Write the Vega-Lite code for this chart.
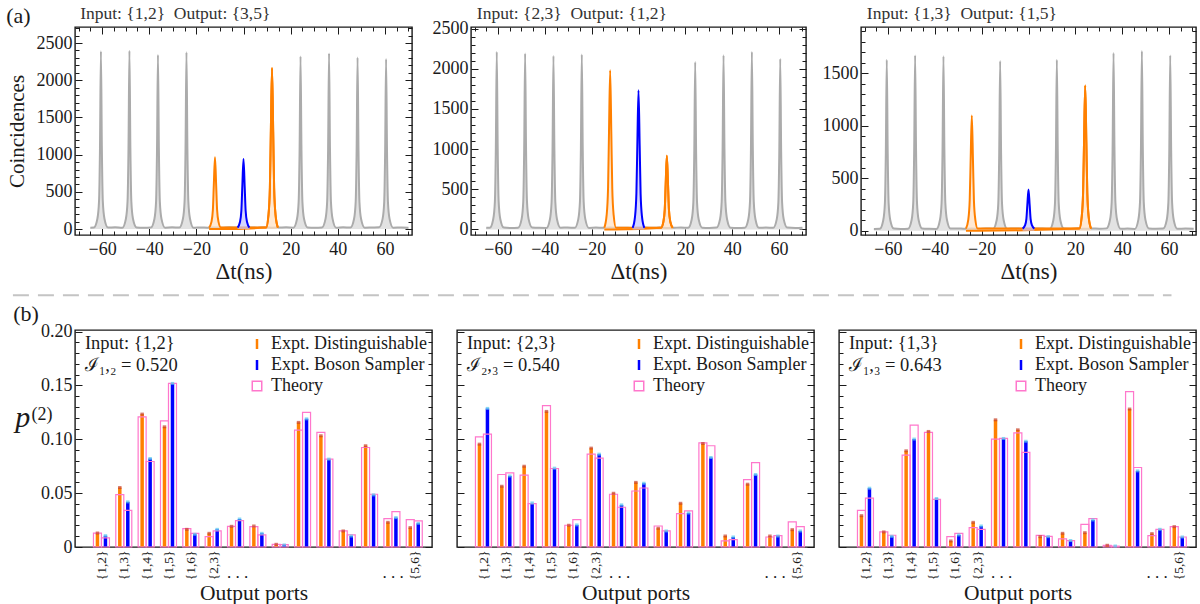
{
"$schema": "https://vega.github.io/schema/vega-lite/v6.json",
"padding": {"left": 5, "top": 0, "right": 0, "bottom": 0},
"autosize": {"type": "pad"},
"background": "white",
"spacing": 9,
"config": {
  "font": "Liberation Serif",
  "view": {"stroke": "#1a1a1a", "strokeWidth": 1.4},
  "axis": {"domain": false, "grid": false, "labelFont": "Liberation Serif", "titleFont": "Liberation Serif", "labelColor": "#1a1a1a", "titleColor": "#1a1a1a", "titleFontWeight": "normal", "tickColor": "#1a1a1a", "tickWidth": 1, "labelOverlap": false, "labelFlush": false},
  "legend": {"orient": "top-right", "offset": 5, "padding": 0, "rowPadding": 3, "labelFontSize": 18, "labelFont": "Liberation Serif", "labelColor": "#1a1a1a", "symbolSize": 100, "labelOffset": 5, "symbolStrokeWidth": 1.5, "layout": {"top-right": {"direction": "vertical", "anchor": "start", "margin": 3, "center": false}}},
  "text": {"font": "Liberation Serif", "color": "#1a1a1a"}
},
"datasets": {
"t1": [
{"s":"g","x":-65,"y":18},{"s":"g","x":-63.5,"y":20},{"s":"g","x":-62,"y":139},{"s":"g","x":-61.3,"y":376},{"s":"g","x":-60.9,"y":1087},{"s":"g","x":-60.5,"y":2390},{"s":"g","x":-60.1,"y":1087},{"s":"g","x":-59.7,"y":376},{"s":"g","x":-59,"y":139},{"s":"g","x":-57.5,"y":20},{"s":"g","x":-54.5,"y":24},
{"s":"g","x":-51.4,"y":18},{"s":"g","x":-49.9,"y":139},{"s":"g","x":-49.2,"y":376},{"s":"g","x":-48.8,"y":1089},{"s":"g","x":-48.4,"y":2395},{"s":"g","x":-48,"y":1089},{"s":"g","x":-47.6,"y":376},{"s":"g","x":-46.9,"y":139},{"s":"g","x":-45.4,"y":22},{"s":"g","x":-42.4,"y":16},
{"s":"g","x":-39.3,"y":21},{"s":"g","x":-37.8,"y":136},{"s":"g","x":-37.1,"y":368},{"s":"g","x":-36.7,"y":1064},{"s":"g","x":-36.3,"y":2340},{"s":"g","x":-35.9,"y":1064},{"s":"g","x":-35.5,"y":368},{"s":"g","x":-34.8,"y":136},{"s":"g","x":-33.3,"y":19},{"s":"g","x":-30.3,"y":23},
{"s":"g","x":-27.2,"y":20},{"s":"g","x":-25.7,"y":138},{"s":"g","x":-25,"y":373},{"s":"g","x":-24.6,"y":1080},{"s":"g","x":-24.2,"y":2375},{"s":"g","x":-23.8,"y":1080},{"s":"g","x":-23.4,"y":373},{"s":"g","x":-22.7,"y":138},{"s":"g","x":-21.2,"y":17},{"s":"g","x":-18.2,"y":22},
{"s":"g","x":-15.1,"y":19},{"s":"g","x":-12.1,"y":21},{"s":"g","x":-9.1,"y":18},{"s":"g","x":-6.1,"y":24},{"s":"g","x":-3,"y":20},{"s":"g","x":0,"y":17},{"s":"g","x":3,"y":22},{"s":"g","x":6,"y":19},{"s":"g","x":9.1,"y":21},{"s":"g","x":12.1,"y":18},{"s":"g","x":15.1,"y":20},{"s":"g","x":18.1,"y":23},
{"s":"g","x":21.2,"y":19},{"s":"g","x":22.7,"y":135},{"s":"g","x":23.4,"y":365},{"s":"g","x":23.8,"y":1055},{"s":"g","x":24.2,"y":2320},{"s":"g","x":24.6,"y":1055},{"s":"g","x":25,"y":365},{"s":"g","x":25.7,"y":135},{"s":"g","x":27.2,"y":21},{"s":"g","x":30.2,"y":17},
{"s":"g","x":33.3,"y":22},{"s":"g","x":34.8,"y":137},{"s":"g","x":35.5,"y":371},{"s":"g","x":35.9,"y":1073},{"s":"g","x":36.3,"y":2360},{"s":"g","x":36.7,"y":1073},{"s":"g","x":37.1,"y":371},{"s":"g","x":37.8,"y":137},{"s":"g","x":39.3,"y":18},{"s":"g","x":42.3,"y":24},
{"s":"g","x":45.4,"y":20},{"s":"g","x":46.9,"y":134},{"s":"g","x":47.6,"y":363},{"s":"g","x":48,"y":1048},{"s":"g","x":48.4,"y":2305},{"s":"g","x":48.8,"y":1048},{"s":"g","x":49.2,"y":363},{"s":"g","x":49.9,"y":134},{"s":"g","x":51.4,"y":19},{"s":"g","x":54.4,"y":21},
{"s":"g","x":57.5,"y":23},{"s":"g","x":59,"y":133},{"s":"g","x":59.7,"y":360},{"s":"g","x":60.1,"y":1039},{"s":"g","x":60.5,"y":2285},{"s":"g","x":60.9,"y":1039},{"s":"g","x":61.3,"y":360},{"s":"g","x":62,"y":133},{"s":"g","x":63.5,"y":18},{"s":"g","x":67,"y":22},{"s":"g","x":70,"y":19},
{"s":"o1","x":-14.6,"y":20},{"s":"o1","x":-13.6,"y":96},{"s":"o1","x":-13,"y":256},{"s":"o1","x":-12.6,"y":587},{"s":"o1","x":-12.1,"y":965},{"s":"o1","x":-11.6,"y":587},{"s":"o1","x":-11.2,"y":256},{"s":"o1","x":-10.6,"y":96},{"s":"o1","x":-9.6,"y":20},
{"s":"o2","x":9.6,"y":20},{"s":"o2","x":10.6,"y":191},{"s":"o2","x":11.2,"y":556},{"s":"o2","x":11.6,"y":1306},{"s":"o2","x":12.1,"y":2163},{"s":"o2","x":12.6,"y":1306},{"s":"o2","x":13,"y":556},{"s":"o2","x":13.6,"y":191},{"s":"o2","x":14.6,"y":20},
{"s":"b","x":-2.5,"y":20},{"s":"b","x":-1.5,"y":94},{"s":"b","x":-0.9,"y":250},{"s":"b","x":-0.5,"y":573},{"s":"b","x":0,"y":942},{"s":"b","x":0.5,"y":573},{"s":"b","x":0.9,"y":250},{"s":"b","x":1.5,"y":94},{"s":"b","x":2.5,"y":20}
],
"t2": [
{"s":"g","x":-65,"y":21},{"s":"g","x":-63.5,"y":19},{"s":"g","x":-62,"y":130},{"s":"g","x":-61.3,"y":349},{"s":"g","x":-60.9,"y":1006},{"s":"g","x":-60.5,"y":2210},{"s":"g","x":-60.1,"y":1006},{"s":"g","x":-59.7,"y":349},{"s":"g","x":-59,"y":130},{"s":"g","x":-57.5,"y":22},{"s":"g","x":-54.5,"y":17},
{"s":"g","x":-51.4,"y":20},{"s":"g","x":-49.9,"y":128},{"s":"g","x":-49.2,"y":345},{"s":"g","x":-48.8,"y":996},{"s":"g","x":-48.4,"y":2189},{"s":"g","x":-48,"y":996},{"s":"g","x":-47.6,"y":345},{"s":"g","x":-46.9,"y":128},{"s":"g","x":-45.4,"y":24},{"s":"g","x":-42.4,"y":19},
{"s":"g","x":-39.3,"y":18},{"s":"g","x":-37.8,"y":127},{"s":"g","x":-37.1,"y":341},{"s":"g","x":-36.7,"y":983},{"s":"g","x":-36.3,"y":2160},{"s":"g","x":-35.9,"y":983},{"s":"g","x":-35.5,"y":341},{"s":"g","x":-34.8,"y":127},{"s":"g","x":-33.3,"y":21},{"s":"g","x":-30.3,"y":23},
{"s":"g","x":-27.2,"y":20},{"s":"g","x":-25.7,"y":128},{"s":"g","x":-25,"y":344},{"s":"g","x":-24.6,"y":991},{"s":"g","x":-24.2,"y":2177},{"s":"g","x":-23.8,"y":991},{"s":"g","x":-23.4,"y":344},{"s":"g","x":-22.7,"y":128},{"s":"g","x":-21.2,"y":18},{"s":"g","x":-18.2,"y":22},
{"s":"g","x":-15.1,"y":20},{"s":"g","x":-12.1,"y":22},{"s":"g","x":-9.1,"y":19},{"s":"g","x":-6.1,"y":21},{"s":"g","x":-3,"y":18},{"s":"g","x":0,"y":21},{"s":"g","x":3,"y":23},{"s":"g","x":6,"y":19},{"s":"g","x":9.1,"y":22},{"s":"g","x":12.1,"y":18},{"s":"g","x":15.1,"y":20},{"s":"g","x":18.1,"y":24},
{"s":"g","x":21.2,"y":19},{"s":"g","x":22.7,"y":123},{"s":"g","x":23.4,"y":330},{"s":"g","x":23.8,"y":949},{"s":"g","x":24.2,"y":2085},{"s":"g","x":24.6,"y":949},{"s":"g","x":25,"y":330},{"s":"g","x":25.7,"y":123},{"s":"g","x":27.2,"y":21},{"s":"g","x":30.2,"y":18},
{"s":"g","x":33.3,"y":22},{"s":"g","x":34.8,"y":127},{"s":"g","x":35.5,"y":342},{"s":"g","x":35.9,"y":987},{"s":"g","x":36.3,"y":2168},{"s":"g","x":36.7,"y":987},{"s":"g","x":37.1,"y":342},{"s":"g","x":37.8,"y":127},{"s":"g","x":39.3,"y":20},{"s":"g","x":42.3,"y":17},
{"s":"g","x":45.4,"y":21},{"s":"g","x":46.9,"y":130},{"s":"g","x":47.6,"y":349},{"s":"g","x":48,"y":1006},{"s":"g","x":48.4,"y":2210},{"s":"g","x":48.8,"y":1006},{"s":"g","x":49.2,"y":349},{"s":"g","x":49.9,"y":130},{"s":"g","x":51.4,"y":19},{"s":"g","x":54.4,"y":23},
{"s":"g","x":57.5,"y":20},{"s":"g","x":59,"y":125},{"s":"g","x":59.7,"y":335},{"s":"g","x":60.1,"y":966},{"s":"g","x":60.5,"y":2123},{"s":"g","x":60.9,"y":966},{"s":"g","x":61.3,"y":335},{"s":"g","x":62,"y":125},{"s":"g","x":63.5,"y":22},{"s":"g","x":67,"y":18},{"s":"g","x":70,"y":21},
{"s":"o1","x":-14.6,"y":20},{"s":"o1","x":-13.6,"y":177},{"s":"o1","x":-13,"y":511},{"s":"o1","x":-12.6,"y":1197},{"s":"o1","x":-12.1,"y":1982},{"s":"o1","x":-11.6,"y":1197},{"s":"o1","x":-11.2,"y":511},{"s":"o1","x":-10.6,"y":177},{"s":"o1","x":-9.6,"y":20},
{"s":"o2","x":9.6,"y":20},{"s":"o2","x":10.6,"y":92},{"s":"o2","x":11.2,"y":244},{"s":"o2","x":11.6,"y":558},{"s":"o2","x":12.1,"y":916},{"s":"o2","x":12.6,"y":558},{"s":"o2","x":13,"y":244},{"s":"o2","x":13.6,"y":92},{"s":"o2","x":14.6,"y":20},
{"s":"b","x":-2.5,"y":20},{"s":"b","x":-1.5,"y":157},{"s":"b","x":-0.9,"y":448},{"s":"b","x":-0.5,"y":1048},{"s":"b","x":0,"y":1733},{"s":"b","x":0.5,"y":1048},{"s":"b","x":0.9,"y":448},{"s":"b","x":1.5,"y":157},{"s":"b","x":2.5,"y":20}
],
"t3": [
{"s":"g","x":-66,"y":17},{"s":"g","x":-63.5,"y":18},{"s":"g","x":-62,"y":100},{"s":"g","x":-61.3,"y":261},{"s":"g","x":-60.9,"y":743},{"s":"g","x":-60.5,"y":1627},{"s":"g","x":-60.1,"y":743},{"s":"g","x":-59.7,"y":261},{"s":"g","x":-59,"y":100},{"s":"g","x":-57.5,"y":20},{"s":"g","x":-54.5,"y":16},
{"s":"g","x":-51.4,"y":19},{"s":"g","x":-49.9,"y":102},{"s":"g","x":-49.2,"y":267},{"s":"g","x":-48.8,"y":762},{"s":"g","x":-48.4,"y":1668},{"s":"g","x":-48,"y":762},{"s":"g","x":-47.6,"y":267},{"s":"g","x":-46.9,"y":102},{"s":"g","x":-45.4,"y":21},{"s":"g","x":-42.4,"y":18},
{"s":"g","x":-39.3,"y":17},{"s":"g","x":-37.8,"y":102},{"s":"g","x":-37.1,"y":266},{"s":"g","x":-36.7,"y":758},{"s":"g","x":-36.3,"y":1659},{"s":"g","x":-35.9,"y":758},{"s":"g","x":-35.5,"y":266},{"s":"g","x":-34.8,"y":102},{"s":"g","x":-33.3,"y":20},{"s":"g","x":-30.3,"y":22},
{"s":"g","x":-27.2,"y":18},{"s":"g","x":-24.2,"y":20},{"s":"g","x":-21.2,"y":17},{"s":"g","x":-18.2,"y":21},
{"s":"g","x":-15.1,"y":19},{"s":"g","x":-13.6,"y":100},{"s":"g","x":-12.9,"y":259},{"s":"g","x":-12.5,"y":737},{"s":"g","x":-12.1,"y":1614},{"s":"g","x":-11.7,"y":737},{"s":"g","x":-11.3,"y":259},{"s":"g","x":-10.6,"y":100},{"s":"g","x":-9.1,"y":18},{"s":"g","x":-6.1,"y":22},
{"s":"g","x":-3,"y":19},{"s":"g","x":0,"y":17},{"s":"g","x":3,"y":20},{"s":"g","x":6,"y":21},
{"s":"g","x":9.1,"y":18},{"s":"g","x":10.6,"y":100},{"s":"g","x":11.3,"y":261},{"s":"g","x":11.7,"y":743},{"s":"g","x":12.1,"y":1627},{"s":"g","x":12.5,"y":743},{"s":"g","x":12.9,"y":261},{"s":"g","x":13.6,"y":100},{"s":"g","x":15.1,"y":20},{"s":"g","x":18.1,"y":17},
{"s":"g","x":21.2,"y":20},{"s":"g","x":24.2,"y":18},{"s":"g","x":27.2,"y":21},{"s":"g","x":30.2,"y":19},
{"s":"g","x":33.3,"y":22},{"s":"g","x":34.8,"y":104},{"s":"g","x":35.5,"y":271},{"s":"g","x":35.9,"y":772},{"s":"g","x":36.3,"y":1690},{"s":"g","x":36.7,"y":772},{"s":"g","x":37.1,"y":271},{"s":"g","x":37.8,"y":104},{"s":"g","x":39.3,"y":18},{"s":"g","x":42.3,"y":20},
{"s":"g","x":45.4,"y":17},{"s":"g","x":46.9,"y":105},{"s":"g","x":47.6,"y":274},{"s":"g","x":48,"y":781},{"s":"g","x":48.4,"y":1710},{"s":"g","x":48.8,"y":781},{"s":"g","x":49.2,"y":274},{"s":"g","x":49.9,"y":105},{"s":"g","x":51.4,"y":21},{"s":"g","x":54.4,"y":19},
{"s":"g","x":57.5,"y":20},{"s":"g","x":59,"y":102},{"s":"g","x":59.7,"y":267},{"s":"g","x":60.1,"y":762},{"s":"g","x":60.5,"y":1668},{"s":"g","x":60.9,"y":762},{"s":"g","x":61.3,"y":267},{"s":"g","x":62,"y":102},{"s":"g","x":63.5,"y":18},{"s":"g","x":67,"y":21},{"s":"g","x":70.5,"y":18},
{"s":"o1","x":-26.7,"y":20},{"s":"o1","x":-25.7,"y":106},{"s":"o1","x":-25.1,"y":289},{"s":"o1","x":-24.7,"y":666},{"s":"o1","x":-24.2,"y":1096},{"s":"o1","x":-23.7,"y":666},{"s":"o1","x":-23.3,"y":289},{"s":"o1","x":-22.7,"y":106},{"s":"o1","x":-21.7,"y":20},
{"s":"o2","x":21.7,"y":20},{"s":"o2","x":22.7,"y":129},{"s":"o2","x":23.3,"y":361},{"s":"o2","x":23.7,"y":837},{"s":"o2","x":24.2,"y":1382},{"s":"o2","x":24.7,"y":837},{"s":"o2","x":25.1,"y":361},{"s":"o2","x":25.7,"y":129},{"s":"o2","x":26.7,"y":20},
{"s":"b","x":-2.5,"y":20},{"s":"b","x":-1.5,"y":50},{"s":"b","x":-0.9,"y":113},{"s":"b","x":-0.5,"y":243},{"s":"b","x":0,"y":391},{"s":"b","x":0.5,"y":243},{"s":"b","x":0.9,"y":113},{"s":"b","x":1.5,"y":50},{"s":"b","x":2.5,"y":20}
],
"bars": [
{"p":1,"i":1,"d":0.013,"b":0.0105,"td":0.0128,"tb":0.0085},
{"p":1,"i":2,"d":0.0552,"b":0.0419,"td":0.0487,"tb":0.0341},
{"p":1,"i":3,"d":0.1234,"b":0.0822,"td":0.1209,"tb":0.0794},
{"p":1,"i":4,"d":0.1116,"b":0.1519,"td":0.1172,"tb":0.1519},
{"p":1,"i":5,"d":0.0164,"b":0.0118,"td":0.0171,"tb":0.0127},
{"p":1,"i":6,"d":0.0127,"b":0.0164,"td":0.0096,"tb":0.0149},
{"p":1,"i":7,"d":0.0192,"b":0.026,"td":0.0192,"tb":0.0245},
{"p":1,"i":8,"d":0.0195,"b":0.0127,"td":0.0189,"tb":0.0112},
{"p":1,"i":9,"d":0.0025,"b":0.0019,"td":0.0025,"tb":0.0022},
{"p":1,"i":10,"d":0.1157,"b":0.119,"td":0.1085,"tb":0.125},
{"p":1,"i":11,"d":0.1033,"b":0.0816,"td":0.1064,"tb":0.0816},
{"p":1,"i":12,"d":0.0149,"b":0.0102,"td":0.0149,"tb":0.0112},
{"p":1,"i":13,"d":0.094,"b":0.0484,"td":0.0924,"tb":0.049},
{"p":1,"i":14,"d":0.0229,"b":0.0273,"td":0.0264,"tb":0.0329},
{"p":1,"i":15,"d":0.018,"b":0.022,"td":0.0254,"tb":0.0242},
{"p":2,"i":1,"d":0.0955,"b":0.1287,"td":0.1023,"tb":0.1048},
{"p":2,"i":2,"d":0.0564,"b":0.066,"td":0.0673,"tb":0.0688},
{"p":2,"i":3,"d":0.075,"b":0.0409,"td":0.0667,"tb":0.0403},
{"p":2,"i":4,"d":0.1259,"b":0.0732,"td":0.1312,"tb":0.0729},
{"p":2,"i":5,"d":0.0202,"b":0.0205,"td":0.0202,"tb":0.0254},
{"p":2,"i":6,"d":0.0918,"b":0.0862,"td":0.0862,"tb":0.0825},
{"p":2,"i":7,"d":0.0499,"b":0.0391,"td":0.049,"tb":0.0369},
{"p":2,"i":8,"d":0.06,"b":0.0592,"td":0.052,"tb":0.0548},
{"p":2,"i":9,"d":0.0174,"b":0.0149,"td":0.0195,"tb":0.0149},
{"p":2,"i":10,"d":0.0406,"b":0.0316,"td":0.031,"tb":0.0335},
{"p":2,"i":11,"d":0.0961,"b":0.0831,"td":0.0967,"tb":0.094},
{"p":2,"i":12,"d":0.0102,"b":0.0093,"td":0.0056,"tb":0.0068},
{"p":2,"i":13,"d":0.0583,"b":0.0673,"td":0.0626,"tb":0.0784},
{"p":2,"i":14,"d":0.0102,"b":0.0102,"td":0.0093,"tb":0.0105},
{"p":2,"i":15,"d":0.0161,"b":0.0149,"td":0.0233,"tb":0.0189},
{"p":3,"i":1,"d":0.0291,"b":0.0546,"td":0.0341,"tb":0.0453},
{"p":3,"i":2,"d":0.014,"b":0.0099,"td":0.014,"tb":0.0109},
{"p":3,"i":3,"d":0.0893,"b":0.1002,"td":0.0853,"tb":0.1132},
{"p":3,"i":4,"d":0.1073,"b":0.045,"td":0.1064,"tb":0.0443},
{"p":3,"i":5,"d":0.0056,"b":0.0112,"td":0.0096,"tb":0.0127},
{"p":3,"i":6,"d":0.0229,"b":0.0195,"td":0.018,"tb":0.0164},
{"p":3,"i":7,"d":0.1181,"b":0.1008,"td":0.1002,"tb":0.1008},
{"p":3,"i":8,"d":0.1088,"b":0.0982,"td":0.106,"tb":0.0878},
{"p":3,"i":9,"d":0.0096,"b":0.0096,"td":0.0108,"tb":0.0099},
{"p":3,"i":10,"d":0.0127,"b":0.006,"td":0.0075,"tb":0.006},
{"p":3,"i":11,"d":0.0133,"b":0.0251,"td":0.0211,"tb":0.0264},
{"p":3,"i":12,"d":0.0016,"b":0.0009,"td":0.0016,"tb":0.0008},
{"p":3,"i":13,"d":0.1281,"b":0.0707,"td":0.1442,"tb":0.0738},
{"p":3,"i":14,"d":0.0124,"b":0.0164,"td":0.0105,"tb":0.0164},
{"p":3,"i":15,"d":0.0189,"b":0.0093,"td":0.0189,"tb":0.0093}
]
},
"resolve": {"scale": {"x": "independent", "y": "independent", "color": "independent", "stroke": "independent"}, "legend": {"color": "independent", "stroke": "independent"}, "axis": {"x": "independent", "y": "independent"}},
"vconcat": [
{
"bounds": "flush", "spacing": 59,
"resolve": {"scale": {"x": "independent", "y": "independent"}, "axis": {"x": "independent", "y": "independent"}},
"hconcat": [
{
"width": 337, "height": 208,
"resolve": {"axis": {"x": "independent", "y": "independent"}},
"layer": [
{"data": {"name": "t1"}, "transform": [{"filter": "datum.s === 'g'"}],
 "mark": {"type": "area", "interpolate": "monotone", "color": "#e2e2e2"},
 "encoding": {
  "x": {"field": "x", "type": "quantitative", "scale": {"domain": [-71.5, 71.5], "nice": false}, "axis": {"orient": "bottom", "title": "Δt(ns)", "titleFontSize": 23, "titleY": 36, "titleBaseline": "middle", "values": [-60,-40,-20,0,20,40,60], "format": "d", "tickSize": -7, "labelPadding": 12, "labelFontSize": 18}},
  "y": {"field": "y", "type": "quantitative", "scale": {"domain": [-80, 2715], "nice": false}, "axis": {"orient": "left", "title": "Coincidences", "titleFontSize": 21, "titleX": -58, "titleY": 104, "titleAngle": -90, "titleAlign": "center", "titleBaseline": "middle", "values": [0,500,1000,1500,2000,2500], "format": "d", "tickSize": -7, "labelPadding": 10, "labelFontSize": 18}}
 }},
{"data": {"name": "t1"}, "transform": [{"filter": "datum.s === 'g'"}],
 "mark": {"type": "line", "interpolate": "monotone", "color": "#ababab", "strokeWidth": 2},
 "encoding": {
  "x": {"field": "x", "type": "quantitative", "axis": {"orient": "bottom", "title": null, "labels": false, "values": [-70,-65,-55,-50,-45,-35,-30,-25,-15,-10,-5,5,10,15,25,30,35,45,50,55,65,70], "tickSize": -4}},
  "y": {"field": "y", "type": "quantitative", "axis": {"orient": "left", "title": null, "labels": false, "values": [100,200,300,400,600,700,800,900,1100,1200,1300,1400,1600,1700,1800,1900,2100,2200,2300,2400,2600,2700], "tickSize": -4}}
 }},
{"data": {"name": "t1"}, "transform": [{"filter": "indexof(datum.s, 'o') === 0"}],
 "mark": {"type": "area", "interpolate": "monotone", "color": "#ffe0c2", "line": {"color": "#ff8000", "strokeWidth": 2}},
 "encoding": {
  "x": {"field": "x", "type": "quantitative", "axis": {"orient": "top", "title": null, "labels": false, "values": [-60,-40,-20,0,20,40,60], "tickSize": -7}},
  "y": {"field": "y", "type": "quantitative", "axis": {"orient": "right", "title": null, "labels": false, "values": [0,500,1000,1500,2000,2500], "tickSize": -7}},
  "detail": {"field": "s"}}},
{"data": {"name": "t1"}, "transform": [{"filter": "datum.s === 'b'"}],
 "mark": {"type": "area", "interpolate": "monotone", "color": "#c4c4ff", "line": {"color": "#0000ff", "strokeWidth": 2}},
 "encoding": {
  "x": {"field": "x", "type": "quantitative", "axis": {"orient": "top", "title": null, "labels": false, "values": [-70,-65,-55,-50,-45,-35,-30,-25,-15,-10,-5,5,10,15,25,30,35,45,50,55,65,70], "tickSize": -4}},
  "y": {"field": "y", "type": "quantitative", "axis": {"orient": "right", "title": null, "labels": false, "values": [100,200,300,400,600,700,800,900,1100,1200,1300,1400,1600,1700,1800,1900,2100,2200,2300,2400,2600,2700], "tickSize": -4}}}},
{"data": {"values": [{"t": "(a)"}]},
 "mark": {"type": "text", "align": "left", "baseline": "middle", "fontSize": 22},
 "encoding": {"text": {"field": "t"}, "x": {"datum": -100.7, "type": "quantitative", "axis": null}, "y": {"datum": 2861, "type": "quantitative", "axis": null}}},
{"data": {"values": [{"t": "Input: {1,2} \u00a0Output: {3,5}"}]},
 "mark": {"type": "text", "align": "left", "baseline": "middle", "fontSize": 17.5, "color": "#333333"},
 "encoding": {"text": {"field": "t"}, "x": {"datum": -69.3, "type": "quantitative", "axis": null}, "y": {"datum": 2895, "type": "quantitative", "axis": null}}},
{"data": {"values": [{}]}, "mark": {"type": "rule", "color": "white", "opacity": 0, "strokeWidth": 1},
 "encoding": {"x": {"datum": -100, "type": "quantitative", "axis": null}, "x2": {"datum": -99}, "y": {"datum": 3067, "type": "quantitative", "axis": null}}}
]
},
{
"bounds": "flush", "spacing": 55,
"resolve": {"scale": {"x": "independent", "y": "independent"}, "axis": {"x": "independent", "y": "independent"}},
"hconcat": [
{
"width": 335, "height": 208,
"resolve": {"axis": {"x": "independent", "y": "independent"}},
"layer": [
{"data": {"name": "t2"}, "transform": [{"filter": "datum.s === 'g'"}],
 "mark": {"type": "area", "interpolate": "monotone", "color": "#e2e2e2"},
 "encoding": {
  "x": {"field": "x", "type": "quantitative", "scale": {"domain": [-71.5, 71.5], "nice": false}, "axis": {"orient": "bottom", "title": "Δt(ns)", "titleFontSize": 23, "titleY": 36, "titleBaseline": "middle", "values": [-60,-40,-20,0,20,40,60], "format": "d", "tickSize": -7, "labelPadding": 12, "labelFontSize": 18}},
  "y": {"field": "y", "type": "quantitative", "scale": {"domain": [-70, 2520], "nice": false}, "axis": {"orient": "left", "title": null, "values": [0,500,1000,1500,2000,2500], "format": "d", "tickSize": -7, "labelPadding": 10, "labelFontSize": 18}}
 }},
{"data": {"name": "t2"}, "transform": [{"filter": "datum.s === 'g'"}],
 "mark": {"type": "line", "interpolate": "monotone", "color": "#ababab", "strokeWidth": 2},
 "encoding": {
  "x": {"field": "x", "type": "quantitative", "axis": {"orient": "bottom", "title": null, "labels": false, "values": [-70,-65,-55,-50,-45,-35,-30,-25,-15,-10,-5,5,10,15,25,30,35,45,50,55,65,70], "tickSize": -4}},
  "y": {"field": "y", "type": "quantitative", "axis": {"orient": "left", "title": null, "labels": false, "values": [100,200,300,400,600,700,800,900,1100,1200,1300,1400,1600,1700,1800,1900,2100,2200,2300,2400], "tickSize": -4}}
 }},
{"data": {"name": "t2"}, "transform": [{"filter": "indexof(datum.s, 'o') === 0"}],
 "mark": {"type": "area", "interpolate": "monotone", "color": "#ffe0c2", "line": {"color": "#ff8000", "strokeWidth": 2}},
 "encoding": {
  "x": {"field": "x", "type": "quantitative", "axis": {"orient": "top", "title": null, "labels": false, "values": [-60,-40,-20,0,20,40,60], "tickSize": -7}},
  "y": {"field": "y", "type": "quantitative", "axis": {"orient": "right", "title": null, "labels": false, "values": [0,500,1000,1500,2000,2500], "tickSize": -7}},
  "detail": {"field": "s"}}},
{"data": {"name": "t2"}, "transform": [{"filter": "datum.s === 'b'"}],
 "mark": {"type": "area", "interpolate": "monotone", "color": "#c4c4ff", "line": {"color": "#0000ff", "strokeWidth": 2}},
 "encoding": {
  "x": {"field": "x", "type": "quantitative", "axis": {"orient": "top", "title": null, "labels": false, "values": [-70,-65,-55,-50,-45,-35,-30,-25,-15,-10,-5,5,10,15,25,30,35,45,50,55,65,70], "tickSize": -4}},
  "y": {"field": "y", "type": "quantitative", "axis": {"orient": "right", "title": null, "labels": false, "values": [100,200,300,400,600,700,800,900,1100,1200,1300,1400,1600,1700,1800,1900,2100,2200,2300,2400], "tickSize": -4}}}},
{"data": {"values": [{"t": "Input: {2,3} \u00a0Output: {1,2}"}]},
 "mark": {"type": "text", "align": "left", "baseline": "middle", "fontSize": 17.5, "color": "#333333"},
 "encoding": {"text": {"field": "t"}, "x": {"datum": -69.0, "type": "quantitative", "axis": null}, "y": {"datum": 2686, "type": "quantitative", "axis": null}}}
]
},
{
"width": 335, "height": 208,
"resolve": {"axis": {"x": "independent", "y": "independent"}},
"layer": [
{"data": {"name": "t3"}, "transform": [{"filter": "datum.s === 'g'"}],
 "mark": {"type": "area", "interpolate": "monotone", "color": "#e2e2e2"},
 "encoding": {
  "x": {"field": "x", "type": "quantitative", "scale": {"domain": [-71.5, 71.5], "nice": false}, "axis": {"orient": "bottom", "title": "Δt(ns)", "titleFontSize": 23, "titleY": 36, "titleBaseline": "middle", "values": [-60,-40,-20,0,20,40,60], "format": "d", "tickSize": -7, "labelPadding": 12, "labelFontSize": 18}},
  "y": {"field": "y", "type": "quantitative", "scale": {"domain": [-41, 1938], "nice": false}, "axis": {"orient": "left", "title": null, "values": [0,500,1000,1500], "format": "d", "tickSize": -7, "labelPadding": 10, "labelFontSize": 18}}
 }},
{"data": {"name": "t3"}, "transform": [{"filter": "datum.s === 'g'"}],
 "mark": {"type": "line", "interpolate": "monotone", "color": "#ababab", "strokeWidth": 2},
 "encoding": {
  "x": {"field": "x", "type": "quantitative", "axis": {"orient": "bottom", "title": null, "labels": false, "values": [-70,-65,-55,-50,-45,-35,-30,-25,-15,-10,-5,5,10,15,25,30,35,45,50,55,65,70], "tickSize": -4}},
  "y": {"field": "y", "type": "quantitative", "axis": {"orient": "left", "title": null, "labels": false, "values": [100,200,300,400,600,700,800,900,1100,1200,1300,1400,1600,1700,1800,1900], "tickSize": -4}}
 }},
{"data": {"name": "t3"}, "transform": [{"filter": "indexof(datum.s, 'o') === 0"}],
 "mark": {"type": "area", "interpolate": "monotone", "color": "#ffe0c2", "line": {"color": "#ff8000", "strokeWidth": 2}},
 "encoding": {
  "x": {"field": "x", "type": "quantitative", "axis": {"orient": "top", "title": null, "labels": false, "values": [-60,-40,-20,0,20,40,60], "tickSize": -7}},
  "y": {"field": "y", "type": "quantitative", "axis": {"orient": "right", "title": null, "labels": false, "values": [0,500,1000,1500], "tickSize": -7}},
  "detail": {"field": "s"}}},
{"data": {"name": "t3"}, "transform": [{"filter": "datum.s === 'b'"}],
 "mark": {"type": "area", "interpolate": "monotone", "color": "#c4c4ff", "line": {"color": "#0000ff", "strokeWidth": 2}},
 "encoding": {
  "x": {"field": "x", "type": "quantitative", "axis": {"orient": "top", "title": null, "labels": false, "values": [-70,-65,-55,-50,-45,-35,-30,-25,-15,-10,-5,5,10,15,25,30,35,45,50,55,65,70], "tickSize": -4}},
  "y": {"field": "y", "type": "quantitative", "axis": {"orient": "right", "title": null, "labels": false, "values": [100,200,300,400,600,700,800,900,1100,1200,1300,1400,1600,1700,1800,1900], "tickSize": -4}}}},
{"data": {"values": [{"t": "Input: {1,3} \u00a0Output: {1,5}"}]},
 "mark": {"type": "text", "align": "left", "baseline": "middle", "fontSize": 17.5, "color": "#333333"},
 "encoding": {"text": {"field": "t"}, "x": {"datum": -69.0, "type": "quantitative", "axis": null}, "y": {"datum": 2065, "type": "quantitative", "axis": null}}}
]
}
]
}
]
},
{
"bounds": "flush", "spacing": 25,
"resolve": {"scale": {"x": "independent", "y": "independent", "color": "independent", "stroke": "independent"}, "legend": {"color": "independent", "stroke": "independent"}, "axis": {"x": "independent", "y": "independent"}},
"hconcat": [
{
"width": 357, "height": 217,
"resolve": {"axis": {"x": "independent", "y": "independent"}},
"layer": [
{"data": {"name": "bars"}, "transform": [{"filter": "datum.p === 1"}],
 "mark": {"type": "bar", "width": 3.5, "xOffset": -4},
 "encoding": {
  "x": {"field": "i", "type": "quantitative", "scale": {"domain": [0.04, 15.57], "nice": false, "zero": false}, "axis": {"orient": "bottom", "title": "Output ports", "titleFontSize": 21.5, "titleY": 46, "titleBaseline": "middle", "values": [1,2,3,4,5,6,15], "labelExpr": "datum.value == 15 ? '{5,6}' : ['','{1,2}','{1,3}','{1,4}','{1,5}','{1,6}','{2,3}'][datum.value]", "ticks": false, "labelAngle": -90, "labelAlign": "right", "labelBaseline": "middle", "labelFontSize": 13.5, "labelPadding": 3}},
  "y": {"field": "d", "type": "quantitative", "scale": {"domain": [0, 0.2015], "nice": false}, "axis": {"orient": "left", "title": null, "values": [0,0.05,0.1,0.15,0.2], "labelExpr": "datum.value === 0 ? '0' : format(datum.value, '.2f')", "tickSize": -7, "labelPadding": 10, "labelFontSize": 18}},
  "color": {"datum": "Expt. Distinguishable", "scale": {"domain": ["Expt. Distinguishable", "Expt. Boson Sampler"], "range": ["#ff8000", "#0000ff"]}, "legend": {"title": null, "direction": "vertical", "symbolType": "M-0.25,-1H0.25V1H-0.25Z"}}
 }},
{"data": {"name": "bars"}, "transform": [{"filter": "datum.p === 1"}],
 "mark": {"type": "bar", "width": 3.5, "xOffset": 4},
 "encoding": {"x": {"field": "i", "type": "quantitative", "axis": null}, "y": {"field": "b", "type": "quantitative", "axis": {"orient": "left", "title": null, "labels": false, "values": [0.01,0.02,0.03,0.04,0.06,0.07,0.08,0.09,0.11,0.12,0.13,0.14,0.16,0.17,0.18,0.19], "tickSize": -4}},
  "color": {"datum": "Expt. Boson Sampler"}}},
{"data": {"name": "bars"}, "transform": [{"filter": "datum.p === 1"}],
 "mark": {"type": "bar", "width": 8, "xOffset": -4, "filled": false, "strokeWidth": 1.2},
 "encoding": {"x": {"field": "i", "type": "quantitative", "axis": null}, "y": {"field": "td", "type": "quantitative", "axis": {"orient": "right", "title": null, "labels": false, "values": [0,0.05,0.1,0.15,0.2], "tickSize": -7}},
  "stroke": {"datum": "Theory", "scale": {"domain": ["Theory"], "range": ["#ff77cc"]}, "legend": {"title": null, "direction": "vertical", "symbolType": "square", "symbolSize": 90, "symbolFillColor": "transparent"}}}},
{"data": {"name": "bars"}, "transform": [{"filter": "datum.p === 1"}],
 "mark": {"type": "bar", "width": 8, "xOffset": 4, "filled": false, "strokeWidth": 1.2},
 "encoding": {"x": {"field": "i", "type": "quantitative", "axis": null}, "y": {"field": "tb", "type": "quantitative", "axis": {"orient": "right", "title": null, "labels": false, "values": [0.01,0.02,0.03,0.04,0.06,0.07,0.08,0.09,0.11,0.12,0.13,0.14,0.16,0.17,0.18,0.19], "tickSize": -4}},
  "stroke": {"datum": "Theory"}}},
{"data": {"name": "bars"}, "transform": [{"filter": "datum.p === 1"}],
 "mark": {"type": "tick", "orient": "horizontal", "size": 3.5, "thickness": 3, "xOffset": -4, "color": "#c8402a"},
 "encoding": {"x": {"field": "i", "type": "quantitative", "axis": null}, "y": {"field": "d", "type": "quantitative", "axis": null}}},
{"data": {"name": "bars"}, "transform": [{"filter": "datum.p === 1"}],
 "mark": {"type": "tick", "orient": "horizontal", "size": 3.5, "thickness": 3, "xOffset": 4, "color": "#55c8ee"},
 "encoding": {"x": {"field": "i", "type": "quantitative", "axis": null}, "y": {"field": "b", "type": "quantitative", "axis": null}}},
{"data": {"values": [{"t": "Input: {1,2}"}]}, "mark": {"type": "text", "align": "left", "baseline": "middle", "fontSize": 18.5},
 "encoding": {"text": {"field": "t"}, "x": {"datum": 0.26, "axis": null}, "y": {"datum": 0.1898, "axis": null}}},
{"data": {"values": [{"t": "ℐ₁,₂ = 0.520"}]}, "mark": {"type": "text", "align": "left", "baseline": "middle", "fontSize": 18.5},
 "encoding": {"text": {"field": "t"}, "x": {"datum": 0.26, "axis": null}, "y": {"datum": 0.169, "axis": null}}},
{"data": {"values": [{"t": ". . ."}]}, "mark": {"type": "text", "align": "center", "baseline": "alphabetic", "fontSize": 17},
 "encoding": {"text": {"field": "t"}, "x": {"datum": 7.1, "axis": null}, "y": {"datum": -0.0285, "axis": null}}},
{"data": {"values": [{"t": ". . ."}]}, "mark": {"type": "text", "align": "center", "baseline": "alphabetic", "fontSize": 17},
 "encoding": {"text": {"field": "t"}, "x": {"datum": 14.05, "axis": null}, "y": {"datum": -0.0285, "axis": null}}},
{"data": {"values": [{"t": "(b)"}]}, "mark": {"type": "text", "align": "left", "baseline": "middle", "fontSize": 22},
 "encoding": {"text": {"field": "t"}, "x": {"datum": -2.95, "axis": null}, "y": {"datum": 0.2161, "axis": null}}},
{"data": {"values": [{"t": "p"}]}, "mark": {"type": "text", "align": "center", "baseline": "alphabetic", "fontSize": 30, "fontStyle": "italic"},
 "encoding": {"text": {"field": "t"}, "x": {"datum": -2.52, "axis": null}, "y": {"datum": 0.1111, "axis": null}}},
{"data": {"values": [{"t": "(2)"}]}, "mark": {"type": "text", "align": "left", "baseline": "alphabetic", "fontSize": 18},
 "encoding": {"text": {"field": "t"}, "x": {"datum": -2.13, "axis": null}, "y": {"datum": 0.1183, "axis": null}}},
{"data": {"values": [{}]}, "mark": {"type": "rule", "strokeDash": [16, 9], "color": "#c4c4c4", "strokeWidth": 2},
 "encoding": {"x": {"datum": -2.962, "axis": null}, "x2": {"datum": 48.89}, "y": {"datum": 0.2337, "axis": null}}}
]
},
{
"width": 357, "height": 217,
"resolve": {"axis": {"x": "independent", "y": "independent"}},
"layer": [
{"data": {"name": "bars"}, "transform": [{"filter": "datum.p === 2"}],
 "mark": {"type": "bar", "width": 3.5, "xOffset": -4},
 "encoding": {
  "x": {"field": "i", "type": "quantitative", "scale": {"domain": [0.04, 15.57], "nice": false, "zero": false}, "axis": {"orient": "bottom", "title": "Output ports", "titleFontSize": 21.5, "titleY": 46, "titleBaseline": "middle", "values": [1,2,3,4,5,6,15], "labelExpr": "datum.value == 15 ? '{5,6}' : ['','{1,2}','{1,3}','{1,4}','{1,5}','{1,6}','{2,3}'][datum.value]", "ticks": false, "labelAngle": -90, "labelAlign": "right", "labelBaseline": "middle", "labelFontSize": 13.5, "labelPadding": 3}},
  "y": {"field": "d", "type": "quantitative", "scale": {"domain": [0, 0.2015], "nice": false}, "axis": {"orient": "left", "title": null, "labels": false, "values": [0,0.05,0.1,0.15,0.2], "tickSize": -7}},
  "color": {"datum": "Expt. Distinguishable", "scale": {"domain": ["Expt. Distinguishable", "Expt. Boson Sampler"], "range": ["#ff8000", "#0000ff"]}, "legend": {"title": null, "direction": "vertical", "symbolType": "M-0.25,-1H0.25V1H-0.25Z"}}
 }},
{"data": {"name": "bars"}, "transform": [{"filter": "datum.p === 2"}],
 "mark": {"type": "bar", "width": 3.5, "xOffset": 4},
 "encoding": {"x": {"field": "i", "type": "quantitative", "axis": null}, "y": {"field": "b", "type": "quantitative", "axis": {"orient": "left", "title": null, "labels": false, "values": [0.01,0.02,0.03,0.04,0.06,0.07,0.08,0.09,0.11,0.12,0.13,0.14,0.16,0.17,0.18,0.19], "tickSize": -4}},
  "color": {"datum": "Expt. Boson Sampler"}}},
{"data": {"name": "bars"}, "transform": [{"filter": "datum.p === 2"}],
 "mark": {"type": "bar", "width": 8, "xOffset": -4, "filled": false, "strokeWidth": 1.2},
 "encoding": {"x": {"field": "i", "type": "quantitative", "axis": null}, "y": {"field": "td", "type": "quantitative", "axis": {"orient": "right", "title": null, "labels": false, "values": [0,0.05,0.1,0.15,0.2], "tickSize": -7}},
  "stroke": {"datum": "Theory", "scale": {"domain": ["Theory"], "range": ["#ff77cc"]}, "legend": {"title": null, "direction": "vertical", "symbolType": "square", "symbolSize": 90, "symbolFillColor": "transparent"}}}},
{"data": {"name": "bars"}, "transform": [{"filter": "datum.p === 2"}],
 "mark": {"type": "bar", "width": 8, "xOffset": 4, "filled": false, "strokeWidth": 1.2},
 "encoding": {"x": {"field": "i", "type": "quantitative", "axis": null}, "y": {"field": "tb", "type": "quantitative", "axis": {"orient": "right", "title": null, "labels": false, "values": [0.01,0.02,0.03,0.04,0.06,0.07,0.08,0.09,0.11,0.12,0.13,0.14,0.16,0.17,0.18,0.19], "tickSize": -4}},
  "stroke": {"datum": "Theory"}}},
{"data": {"name": "bars"}, "transform": [{"filter": "datum.p === 2"}],
 "mark": {"type": "tick", "orient": "horizontal", "size": 3.5, "thickness": 3, "xOffset": -4, "color": "#c8402a"},
 "encoding": {"x": {"field": "i", "type": "quantitative", "axis": null}, "y": {"field": "d", "type": "quantitative", "axis": null}}},
{"data": {"name": "bars"}, "transform": [{"filter": "datum.p === 2"}],
 "mark": {"type": "tick", "orient": "horizontal", "size": 3.5, "thickness": 3, "xOffset": 4, "color": "#55c8ee"},
 "encoding": {"x": {"field": "i", "type": "quantitative", "axis": null}, "y": {"field": "b", "type": "quantitative", "axis": null}}},
{"data": {"values": [{"t": "Input: {2,3}"}]}, "mark": {"type": "text", "align": "left", "baseline": "middle", "fontSize": 18.5},
 "encoding": {"text": {"field": "t"}, "x": {"datum": 0.26, "axis": null}, "y": {"datum": 0.1898, "axis": null}}},
{"data": {"values": [{"t": "ℐ₂,₃ = 0.540"}]}, "mark": {"type": "text", "align": "left", "baseline": "middle", "fontSize": 18.5},
 "encoding": {"text": {"field": "t"}, "x": {"datum": 0.26, "axis": null}, "y": {"datum": 0.169, "axis": null}}},
{"data": {"values": [{"t": ". . ."}]}, "mark": {"type": "text", "align": "center", "baseline": "alphabetic", "fontSize": 17},
 "encoding": {"text": {"field": "t"}, "x": {"datum": 7.1, "axis": null}, "y": {"datum": -0.0285, "axis": null}}},
{"data": {"values": [{"t": ". . ."}]}, "mark": {"type": "text", "align": "center", "baseline": "alphabetic", "fontSize": 17},
 "encoding": {"text": {"field": "t"}, "x": {"datum": 14.05, "axis": null}, "y": {"datum": -0.0285, "axis": null}}}
]
},
{
"width": 357, "height": 217,
"resolve": {"axis": {"x": "independent", "y": "independent"}},
"layer": [
{"data": {"name": "bars"}, "transform": [{"filter": "datum.p === 3"}],
 "mark": {"type": "bar", "width": 3.5, "xOffset": -4},
 "encoding": {
  "x": {"field": "i", "type": "quantitative", "scale": {"domain": [0.04, 15.57], "nice": false, "zero": false}, "axis": {"orient": "bottom", "title": "Output ports", "titleFontSize": 21.5, "titleY": 46, "titleBaseline": "middle", "values": [1,2,3,4,5,6,15], "labelExpr": "datum.value == 15 ? '{5,6}' : ['','{1,2}','{1,3}','{1,4}','{1,5}','{1,6}','{2,3}'][datum.value]", "ticks": false, "labelAngle": -90, "labelAlign": "right", "labelBaseline": "middle", "labelFontSize": 13.5, "labelPadding": 3}},
  "y": {"field": "d", "type": "quantitative", "scale": {"domain": [0, 0.2015], "nice": false}, "axis": {"orient": "left", "title": null, "labels": false, "values": [0,0.05,0.1,0.15,0.2], "tickSize": -7}},
  "color": {"datum": "Expt. Distinguishable", "scale": {"domain": ["Expt. Distinguishable", "Expt. Boson Sampler"], "range": ["#ff8000", "#0000ff"]}, "legend": {"title": null, "direction": "vertical", "symbolType": "M-0.25,-1H0.25V1H-0.25Z"}}
 }},
{"data": {"name": "bars"}, "transform": [{"filter": "datum.p === 3"}],
 "mark": {"type": "bar", "width": 3.5, "xOffset": 4},
 "encoding": {"x": {"field": "i", "type": "quantitative", "axis": null}, "y": {"field": "b", "type": "quantitative", "axis": {"orient": "left", "title": null, "labels": false, "values": [0.01,0.02,0.03,0.04,0.06,0.07,0.08,0.09,0.11,0.12,0.13,0.14,0.16,0.17,0.18,0.19], "tickSize": -4}},
  "color": {"datum": "Expt. Boson Sampler"}}},
{"data": {"name": "bars"}, "transform": [{"filter": "datum.p === 3"}],
 "mark": {"type": "bar", "width": 8, "xOffset": -4, "filled": false, "strokeWidth": 1.2},
 "encoding": {"x": {"field": "i", "type": "quantitative", "axis": null}, "y": {"field": "td", "type": "quantitative", "axis": {"orient": "right", "title": null, "labels": false, "values": [0,0.05,0.1,0.15,0.2], "tickSize": -7}},
  "stroke": {"datum": "Theory", "scale": {"domain": ["Theory"], "range": ["#ff77cc"]}, "legend": {"title": null, "direction": "vertical", "symbolType": "square", "symbolSize": 90, "symbolFillColor": "transparent"}}}},
{"data": {"name": "bars"}, "transform": [{"filter": "datum.p === 3"}],
 "mark": {"type": "bar", "width": 8, "xOffset": 4, "filled": false, "strokeWidth": 1.2},
 "encoding": {"x": {"field": "i", "type": "quantitative", "axis": null}, "y": {"field": "tb", "type": "quantitative", "axis": {"orient": "right", "title": null, "labels": false, "values": [0.01,0.02,0.03,0.04,0.06,0.07,0.08,0.09,0.11,0.12,0.13,0.14,0.16,0.17,0.18,0.19], "tickSize": -4}},
  "stroke": {"datum": "Theory"}}},
{"data": {"name": "bars"}, "transform": [{"filter": "datum.p === 3"}],
 "mark": {"type": "tick", "orient": "horizontal", "size": 3.5, "thickness": 3, "xOffset": -4, "color": "#c8402a"},
 "encoding": {"x": {"field": "i", "type": "quantitative", "axis": null}, "y": {"field": "d", "type": "quantitative", "axis": null}}},
{"data": {"name": "bars"}, "transform": [{"filter": "datum.p === 3"}],
 "mark": {"type": "tick", "orient": "horizontal", "size": 3.5, "thickness": 3, "xOffset": 4, "color": "#55c8ee"},
 "encoding": {"x": {"field": "i", "type": "quantitative", "axis": null}, "y": {"field": "b", "type": "quantitative", "axis": null}}},
{"data": {"values": [{"t": "Input: {1,3}"}]}, "mark": {"type": "text", "align": "left", "baseline": "middle", "fontSize": 18.5},
 "encoding": {"text": {"field": "t"}, "x": {"datum": 0.26, "axis": null}, "y": {"datum": 0.1898, "axis": null}}},
{"data": {"values": [{"t": "ℐ₁,₃ = 0.643"}]}, "mark": {"type": "text", "align": "left", "baseline": "middle", "fontSize": 18.5},
 "encoding": {"text": {"field": "t"}, "x": {"datum": 0.26, "axis": null}, "y": {"datum": 0.169, "axis": null}}},
{"data": {"values": [{"t": ". . ."}]}, "mark": {"type": "text", "align": "center", "baseline": "alphabetic", "fontSize": 17},
 "encoding": {"text": {"field": "t"}, "x": {"datum": 7.1, "axis": null}, "y": {"datum": -0.0285, "axis": null}}},
{"data": {"values": [{"t": ". . ."}]}, "mark": {"type": "text", "align": "center", "baseline": "alphabetic", "fontSize": 17},
 "encoding": {"text": {"field": "t"}, "x": {"datum": 14.05, "axis": null}, "y": {"datum": -0.0285, "axis": null}}}
]
}
]
}
]
}
